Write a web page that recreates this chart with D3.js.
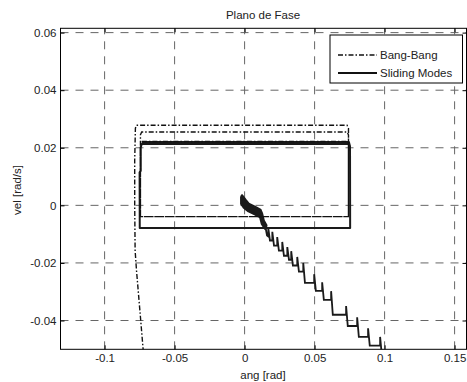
<!DOCTYPE html>
<html lang="en">
<head>
<meta charset="UTF-8">
<title>Plano de Fase</title>
<script src="https://d3js.org/d3.v7.min.js"></script>
<style>
  body { margin: 0; background: #fff; }
  svg { display: block; font-family: "Liberation Sans", Arial, sans-serif; }
</style>
</head>
<body>
<svg width="467" height="382"></svg>
<script>
// ticks
const xTicks = [-0.1, -0.05, 0, 0.05, 0.1, 0.15];
const xTickLabels = ["-0.1", "-0.05", "0", "0.05", "0.1", "0.15"];
const yTicks = [-0.04, -0.02, 0, 0.02, 0.04, 0.06];
const yTickLabels = ["-0.04", "-0.02", "0", "0.02", "0.04", "0.06"];

// Bang-Bang trajectory [ang, vel]
const bangBang = [
  [-0.0723, -0.051], [-0.0742, -0.040], [-0.0772, -0.0227], [-0.0782, -0.0157],
  [-0.0785, 0.0], [-0.0785, 0.0156], [-0.0780, 0.0268], [-0.0772, 0.0278],
  [0.0732, 0.0278], [0.0742, 0.0268], [0.0742, -0.0039], [-0.0744, -0.0039],
  [-0.0744, 0.0245], [-0.0735, 0.0255], [0.0732, 0.0255], [0.0742, 0.0245],
  [0.0742, -0.0039], [-0.0744, -0.0039], [-0.0744, 0.0212], [-0.0735, 0.0222],
  [0.0735, 0.0222], [0.0742, 0.0212], [0.0742, -0.0039]
];

// Sliding Modes: ciclo retangular
const slidingLoop = [
  [-0.0735, 0.0220], [0.0745, 0.0220], [0.0753, 0.0205], [0.0754, -0.0079],
  [-0.0749, -0.0079], [-0.0750, 0.0115], [-0.0742, 0.0120], [-0.0742, 0.0200],
  [-0.0735, 0.0213], [0.0748, 0.0213]
];

// Sliding Modes: chattering perto da origem (bordas)
const blobUpper = [
  [-0.00185, 0.00345], [0.0005, 0.00195], [0.00285, 0.00056], [0.00763, -0.00063],
  [0.0112, -0.00153], [0.0124, -0.00293], [0.01355, -0.00526], [0.01548, -0.00697]
];
const blobLower = [
  [-0.00235, 0.00286], [-0.00235, 0.00056], [-0.00071, -0.00063], [0.00285, -0.00202],
  [0.00763, -0.00317], [0.0112, -0.00411], [0.0124, -0.00641], [0.01477, -0.00815]
];

// Sliding Modes: escada
const slidingStairs = [
  [0.0150, -0.0078], [0.0160, -0.0105], [0.0169, -0.0108], [0.0169, -0.0078],
  [0.0181, -0.0122], [0.0198, -0.0122], [0.0198, -0.0092], [0.0210, -0.0140],
  [0.0233, -0.0140], [0.0233, -0.0110], [0.0245, -0.0157], [0.0269, -0.0157],
  [0.0269, -0.0127], [0.0281, -0.0175], [0.0305, -0.0175], [0.0305, -0.0145],
  [0.0317, -0.0189], [0.0333, -0.0189], [0.0333, -0.0159], [0.0345, -0.0209],
  [0.0376, -0.0209], [0.0376, -0.0179], [0.0388, -0.0230], [0.0419, -0.0230],
  [0.0419, -0.0200], [0.0431, -0.0269], [0.0497, -0.0269], [0.0497, -0.0239],
  [0.0509, -0.0297], [0.0554, -0.0297], [0.0554, -0.0267], [0.0566, -0.0328],
  [0.0618, -0.0328], [0.0618, -0.0298], [0.0630, -0.0380], [0.0725, -0.0380],
  [0.0725, -0.0350], [0.0737, -0.0419], [0.0804, -0.0419], [0.0804, -0.0389],
  [0.0816, -0.0457], [0.0882, -0.0457], [0.0882, -0.0427], [0.0894, -0.0487],
  [0.0968, -0.0487], [0.0968, -0.0457], [0.0980, -0.0520]
];

const legendNames = ["Bang-Bang", "Sliding Modes"];

const svg = d3.select("svg");
const pLeft = 60.5, pRight = 466.5, pTop = 28.3, pBottom = 349.3;

const x = d3.scaleLinear().domain([-0.1315, 0.1585]).range([pLeft, pRight]);
const y = d3.scaleLinear().domain([-0.05, 0.0615]).range([pBottom, pTop]);

svg.append("defs").append("clipPath").attr("id", "plot")
  .append("rect").attr("x", pLeft).attr("y", pTop)
  .attr("width", pRight - pLeft).attr("height", pBottom - pTop);

// grade
const grid = svg.append("g").attr("stroke", "#666").attr("stroke-width", 1)
  .attr("stroke-dasharray", "8,7");
grid.selectAll("line.gx").data(xTicks).enter().append("line")
  .attr("x1", d => x(d)).attr("x2", d => x(d))
  .attr("y1", pBottom).attr("y2", pTop);
grid.selectAll("line.gy").data(yTicks).enter().append("line")
  .attr("x1", pLeft).attr("x2", pRight)
  .attr("y1", d => y(d)).attr("y2", d => y(d));

// eixos
svg.append("g").attr("transform", `translate(0,${pBottom})`)
  .call(d3.axisBottom(x).tickValues(xTicks).tickFormat((d, i) => xTickLabels[i])
    .tickSize(-4).tickPadding(5));
svg.append("g").attr("transform", `translate(${pLeft},0)`)
  .call(d3.axisLeft(y).tickValues(yTicks).tickFormat((d, i) => yTickLabels[i])
    .tickSize(-4).tickPadding(4));
svg.append("g").attr("transform", `translate(0,${pTop})`)
  .call(d3.axisTop(x).tickValues(xTicks).tickFormat("").tickSize(-4));
svg.append("g").attr("transform", `translate(${pRight},0)`)
  .call(d3.axisRight(y).tickValues(yTicks).tickFormat("").tickSize(-4));
svg.selectAll(".domain").remove();
svg.selectAll(".tick line").attr("stroke", "#000");
svg.selectAll(".tick text").attr("fill", "#222").style("font-size", "11.5px")
  .style("font-family", "'Liberation Sans', Arial, sans-serif");

const plot = svg.append("g").attr("clip-path", "url(#plot)");
const line = d3.line().x(d => x(d[0])).y(d => y(d[1]));
const area = d3.line().x(d => x(d[0])).y(d => y(d[1])).curve(d3.curveLinearClosed);

// Sliding Modes
plot.append("path").datum(slidingLoop).attr("d", line)
  .attr("fill", "none").attr("stroke", "#1a1a1a").attr("stroke-width", 2)
  .attr("stroke-linejoin", "round");
plot.append("path").datum(blobUpper.concat(blobLower.slice().reverse()))
  .attr("d", area)
  .attr("fill", "#1a1a1a").attr("stroke", "#1a1a1a").attr("stroke-width", 2.5)
  .attr("stroke-linejoin", "round");
plot.append("path").datum(slidingStairs).attr("d", line)
  .attr("fill", "none").attr("stroke", "#1a1a1a").attr("stroke-width", 1.8);

// Bang-Bang
plot.append("path").datum(bangBang).attr("d", line)
  .attr("fill", "none").attr("stroke", "#111").attr("stroke-width", 1.4)
  .attr("stroke-dasharray", "5,2,1.5,2");

// caixa
svg.append("rect").attr("x", pLeft).attr("y", pTop)
  .attr("width", pRight - pLeft).attr("height", pBottom - pTop)
  .attr("fill", "none").attr("stroke", "#000").attr("stroke-width", 1);

// legenda
const lg = svg.append("g");
lg.append("rect").attr("x", 330).attr("y", 35).attr("width", 132.5).attr("height", 48)
  .attr("fill", "#fff").attr("stroke", "#000").attr("stroke-width", 1);
legendNames.forEach((name, i) => {
  const ly = 55 + i * 18;
  lg.append("line").attr("x1", 338).attr("x2", 377).attr("y1", ly).attr("y2", ly)
    .attr("stroke", "#111").attr("stroke-width", i === 0 ? 1.4 : 2)
    .attr("stroke-dasharray", i === 0 ? "5,2,1.5,2" : null);
  lg.append("text").attr("x", 380).attr("y", ly + 4).text(name)
    .style("font-size", "11.5px").attr("fill", "#222");
});

// titulos
svg.append("text").attr("x", 263).attr("y", 19).attr("text-anchor", "middle")
  .style("font-size", "11.5px").attr("fill", "#222").text("Plano de Fase");
svg.append("text").attr("x", 263).attr("y", 379).attr("text-anchor", "middle")
  .style("font-size", "11.5px").attr("fill", "#222").text("ang [rad]");
svg.append("text").attr("transform", "rotate(-90)")
  .attr("x", -190).attr("y", 21).attr("text-anchor", "middle")
  .style("font-size", "11.5px").attr("fill", "#222").text("vel [rad/s]");
</script>
</body>
</html>
